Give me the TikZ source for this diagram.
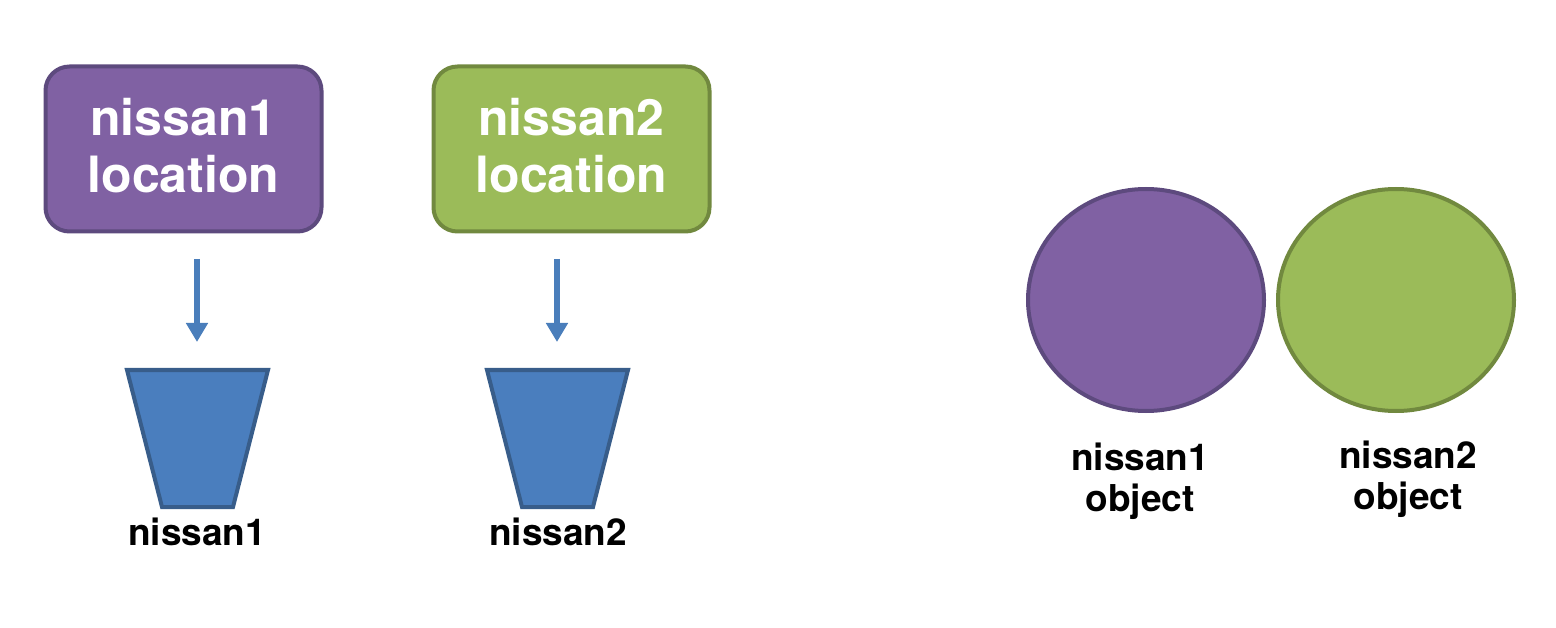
\documentclass[tikz,border=0pt]{standalone}
\usepackage{fontspec}
\setmainfont{TeX Gyre Heros}
\usetikzlibrary{shapes.geometric,arrows.meta}
\definecolor{purpf}{HTML}{8061A3}
\definecolor{purpd}{HTML}{5D4A7E}
\definecolor{greenf}{HTML}{9BBB59}
\definecolor{greend}{HTML}{71893F}
\definecolor{bluef}{HTML}{4A7EBE}
\definecolor{blued}{HTML}{385D8A}
\definecolor{arrowc}{HTML}{4A7EBB}
\tikzset{
  locbox/.style={rounded corners=24pt, line width=4pt, minimum width=276pt, minimum height=165pt,
    inner sep=0pt, align=center, text=white, font=\fontsize{50}{57}\selectfont\bfseries},
  objcirc/.style={ellipse, line width=4pt, minimum width=236pt, minimum height=222pt, inner sep=0pt},
  trap/.style={fill=bluef, draw=blued, line width=4pt, line join=miter},
  lbl/.style={align=center, font=\fontsize{37}{41}\selectfont\bfseries, inner sep=0pt},
  blarrow/.style={draw=arrowc, line width=6.5pt, -{Triangle[length=19pt,width=21pt]}}
}
\begin{document}
\begin{tikzpicture}[x=1pt,y=-1pt]
\useasboundingbox (0,0) rectangle (1556,628);
\node[locbox, fill=purpf, draw=purpd] (b1) at (183.5,149) {};
\node[locbox, fill=greenf, draw=greend] (b2) at (571.5,149) {};
\node[locbox, draw=none, fill=none] (b1t) at (183.5,146) {nissan1\\location};
\node[locbox, draw=none, fill=none] (b2t) at (571.5,146) {nissan2\\location};
\coordinate (a1s) at (197,259);
\coordinate (a1e) at (197,342);
\coordinate (a2s) at (557,259);
\coordinate (a2e) at (557,342);
\draw[blarrow] (a1s) -- (a1e);
\draw[blarrow] (a2s) -- (a2e);
\draw[trap] (127,370) -- (268,370) -- (233,507) -- (162,507) -- cycle;
\draw[trap] (487,370) -- (628,370) -- (593,507) -- (522,507) -- cycle;
\node[lbl, anchor=base] (t1) at (197,545) {nissan1};
\node[lbl, anchor=base] (t2) at (558,545) {nissan2};
\node[objcirc, fill=purpf, draw=purpd] (c1) at (1146,300) {};
\node[objcirc, fill=greenf, draw=greend] (c2) at (1396,300) {};
\node[lbl] (o1) at (1140,481) {nissan1\\object};
\node[lbl] (o2) at (1408,479) {nissan2\\object};
\end{tikzpicture}
\end{document}
